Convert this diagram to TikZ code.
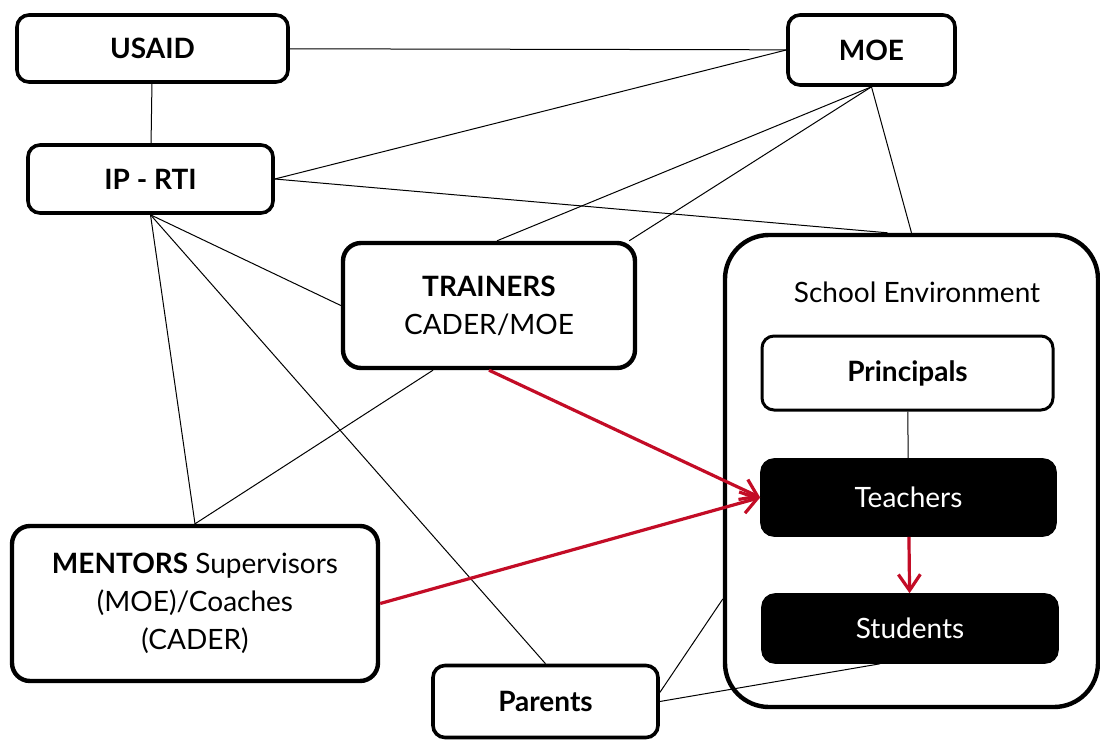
\documentclass[tikz,border=0pt]{standalone}
\usepackage{fontspec}
\setmainfont{Lato}
\usetikzlibrary{arrows.meta}

\definecolor{pushred}{RGB}{195,12,38}

\tikzset{
	actor/.style={draw, rounded corners=6pt, line width=1.8pt, fill=white, align=center, inner sep=0pt, font=\fontsize{14}{19}\selectfont},
	bigactor/.style={actor, rounded corners=9pt, line width=2.2pt},
	level/.style={actor, fill=black, text=white},
	link/.style={line width=0.5pt},
	push/.style={draw=pushred, line width=1.6pt, -{Straight Barb[length=8pt,width=11pt]}},
}

\begin{document}
\begin{tikzpicture}[x=0.5pt,y=-0.5pt]
	
	\fill[white] (0,0) rectangle (1100,740);
	\useasboundingbox (0,0) rectangle (1100,740);
	
	\node[actor, minimum width=135.5pt, minimum height=33.5pt] (usaid) at (152.5,48.5) {\textbf{USAID}};
	\node[actor, minimum width=83.5pt, minimum height=35pt] (moe) at (871.5,50) {\textbf{MOE}};
	\node[actor, minimum width=122.5pt, minimum height=34pt] (ip) at (150.5,179) {\textbf{IP - RTI}};
	\node[bigactor, minimum width=146pt, minimum height=62.5pt] (trainers) at (489,305.5) {\textbf{TRAINERS}\\CADER/MOE};
	\node[bigactor, minimum width=183pt, minimum height=77.5pt] (mentors) at (195,603.5) {\textbf{MENTORS} Supervisors\\(MOE)/Coaches\\(CADER)};
	\node[actor, minimum width=112.5pt, minimum height=36pt] (parents) at (545.5,701.5) {\textbf{Parents}};
	
	% school box and what sits in it
	\node[bigactor, rounded corners=22pt, minimum width=186.5pt, minimum height=236pt] (school) at (911.5,471) {};
	\node[font=\fontsize{14}{19}\selectfont] (schoollbl) at (917,292) {School Environment};
	\node[actor, line width=1.5pt, minimum width=145.5pt, minimum height=37pt] (principals) at (907.5,373) {\textbf{Principals}};
	\node[level, minimum width=146.5pt, minimum height=37.5pt] (teachers) at (908.5,497.5) {Teachers};
	\node[level, minimum width=147pt, minimum height=33.5pt] (students) at (910,628.5) {Students};
	
	\draw[link] (usaid) -- (moe);
	\draw[link] (usaid) -- (ip);
	\draw[link] (ip.east) -- (moe.west);
	\draw[link] (ip.east) -- ([xshift=-12pt]school.north);
	\draw[link] (moe.south) -- ([xshift=4pt]trainers.north);
	\draw[link] (moe.south) -- ([xshift=-4pt]trainers.north east);
	\draw[link] (moe.south) -- (school.north);
	\draw[link] (ip.south) -- (trainers.west);
	\draw[link] (ip.south) -- (mentors.north);
	\draw[link] (ip.south) -- (parents.north);
	\draw[link] ([xshift=-28pt]trainers.south) -- (mentors.north);
	\draw[link] (principals) -- (teachers);
	\draw[link] ([yshift=4.5pt]parents.east) -- ([yshift=-64pt]school.west);
	\draw[link] (parents.east) -- ([xshift=-15pt]students.south);
	
	\draw[push] (trainers.south) -- (teachers.west);
	\draw[push] (mentors.east) -- (teachers.west);
	\draw[push] (teachers) -- (students);
	
\end{tikzpicture}
\end{document}
